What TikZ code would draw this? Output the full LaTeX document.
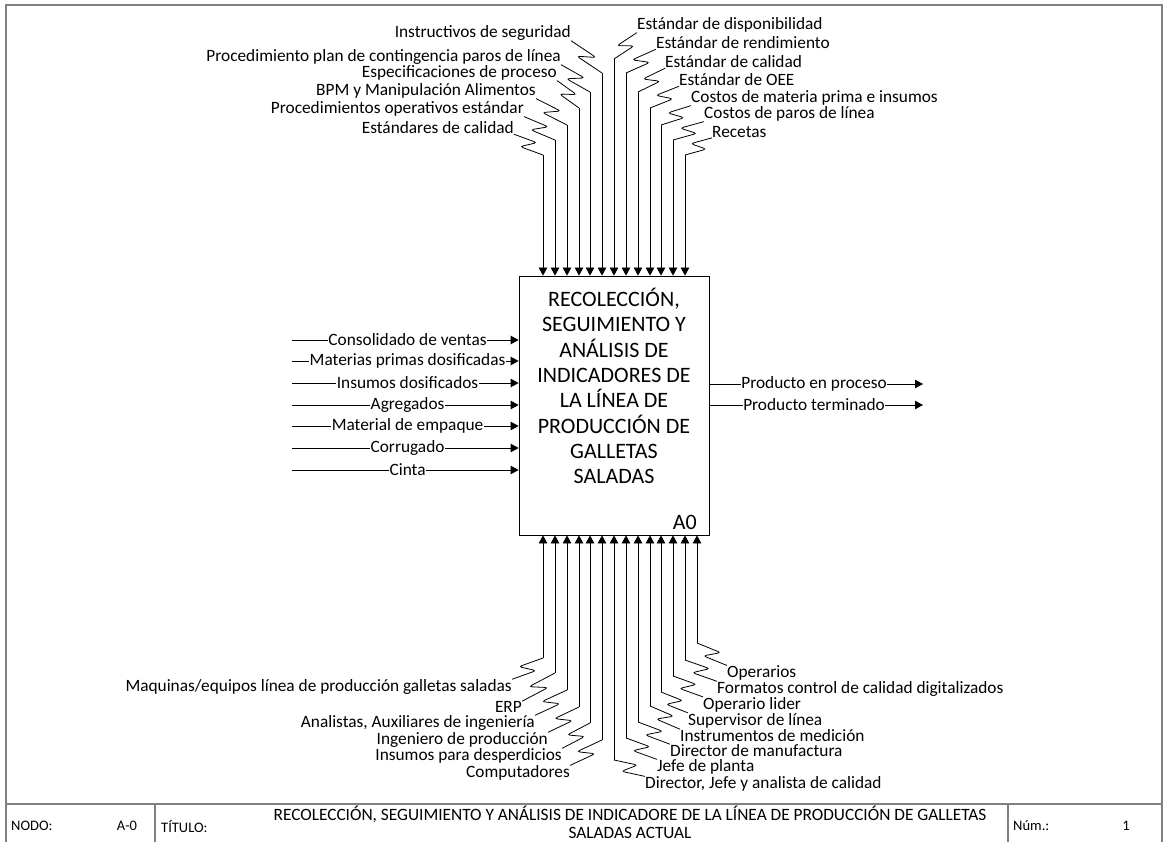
\documentclass[tikz,border=0pt]{standalone}
\usepackage{fontspec}
\setmainfont{Carlito}
\usetikzlibrary{calc,arrows.meta}
\begin{document}
\begin{tikzpicture}[x=1pt,y=-1pt,
  arr/.style={-{Triangle[length=8pt,width=8.5pt]}, line width=0.8pt},
  lab/.style={font=\fontsize{17.3}{18}\selectfont, inner sep=0pt},
  io/.style={lab, fill=white, inner sep=0.6pt},
  squig/.style={to path={-- ($(\tikztostart)!0.66!(\tikztotarget)!#1!90:(\tikztotarget)$)
      -- ($(\tikztostart)!0.34!(\tikztotarget)!-#1!90:(\tikztotarget)$) -- (\tikztotarget)}},
  squig/.default=6.5pt,
  wire/.style={line width=0.8pt, rounded corners=3pt},
  frame/.style={draw=black!50, line width=1.4pt},
  bar/.style={font=\fontsize{14.5}{16}\selectfont, inner sep=1pt}]

\useasboundingbox (0,0) rectangle (1167,842);
\clip (0,0) rectangle (1167,842);

% sheet frame and title block
\draw[frame] (6,842) -- (6,5) -- (1162,5) -- (1162,842);
\draw[frame] (6,804) -- (1162,804);
\draw[frame] (155,804) -- (155,842);
\draw[frame] (1008,804) -- (1008,842);
\node[bar, anchor=west] (nodo) at (10,826) {NODO:};
\node[bar] (nodoval) at (127,826) {A-0};
\node[bar, anchor=west] (titulo) at (160,826) {TÍTULO:};
\node[font=\fontsize{17.3}{18}\selectfont, align=center, inner sep=0pt, anchor=north] (tituloval) at (630,806)
  {RECOLECCIÓN, SEGUIMIENTO Y ANÁLISIS DE INDICADORE DE LA LÍNEA DE PRODUCCIÓN DE GALLETAS\\SALADAS ACTUAL};
\node[bar, anchor=west] (num) at (1012,826) {Núm.:};
\node[bar] (numval) at (1126,826) {1};

% activity box
\node[draw, line width=0.8pt, minimum width=190pt, minimum height=259pt, inner sep=0pt] (box) at (614,405.5) {};
\node[font=\fontsize{22}{25.3}\selectfont, align=center] (boxtext) at (614,386)
  {RECOLECCIÓN,\\SEGUIMIENTO Y\\ANÁLISIS DE\\INDICADORES DE\\LA LÍNEA DE\\PRODUCCIÓN DE\\GALLETAS\\SALADAS};
\node[font=\fontsize{22}{22}\selectfont, anchor=east, inner sep=0pt] (a0) at (697,522) {A0};

% controls, left group
\foreach \i/\x/\yt/\lx/\ly/\t in {
  1/543/155/514/128/{Estándares de calidad},
  2/555/140/524/109/{Procedimientos operativos estándar},
  3/567/125/536/91/{BPM y Manipulación Alimentos},
  4/579/108/557/73/{Especificaciones de proceso},
  5/590/92/561/57/{Procedimiento plan de contingencia paros de línea},
  6/602/73/571/33/{Instructivos de seguridad}} {
  \coordinate (ct\i) at (\x,\yt);
  \node[lab, anchor=east] (lt\i) at (\lx,\ly) {\t};
  \draw[arr] (ct\i) -- (ct\i |- box.north);
  \draw[wire] (ct\i) to[squig] (lt\i.south east);
}

% controls, right group
\foreach \i/\x/\yt/\lx/\ly/\t in {
  7/614/59/637/25/{Estándar de disponibilidad},
  8/626/73/656/43/{Estándar de rendimiento},
  9/638/92/665/62/{Estándar de calidad},
  10/650/108/679/80/{Estándar de OEE},
  11/661/125/691/98/{Costos de materia prima e insumos},
  12/673/140/704/114/{Costos de paros de línea},
  13/685/155/712/132/{Recetas}} {
  \coordinate (ct\i) at (\x,\yt);
  \node[lab, anchor=west] (lt\i) at (\lx,\ly) {\t};
  \draw[arr] (ct\i) -- (ct\i |- box.north);
  \draw[wire] (ct\i) to[squig=-6.5pt] (lt\i.south west);
}

% mechanisms, left group
\foreach \i/\x/\yb/\lx/\ly/\t in {
  1/543/658/512/687/{Maquinas/equipos línea de producción galletas saladas},
  2/555/673/522/707/{ERP},
  3/567/690/535/723/{Analistas, Auxiliares de ingeniería},
  4/579/707/548/740/{Ingeniero de producción},
  5/590/723/562/756/{Insumos para desperdicios},
  6/602/740/570/773/{Computadores}} {
  \coordinate (cm\i) at (\x,\yb);
  \node[lab, anchor=east] (lm\i) at (\lx,\ly) {\t};
  \draw[arr] (cm\i) -- (cm\i |- box.south);
  \draw[wire] (cm\i) to[squig=-6.5pt] (lm\i.north east);
}

% mechanisms, right group
\foreach \i/\x/\yb/\lx/\ly/\t in {
  7/614/760/645/784/{Director, Jefe y analista de calidad},
  8/626/738/657/767/{Jefe de planta},
  9/638/722/670/750.5/{Director de manufactura},
  10/650/706/680/735.5/{Instrumentos de medición},
  11/661/692/688/720.5/{Supervisor de línea},
  12/673/676/703/704.5/{Operario lider},
  13/685/660/717/689/{Formatos control de calidad digitalizados},
  14/697/643/727/673/{Operarios}} {
  \coordinate (cm\i) at (\x,\yb);
  \node[lab, anchor=west] (lm\i) at (\lx,\ly) {\t};
  \draw[arr] (cm\i) -- (cm\i |- box.south);
  \draw[wire] (cm\i) to[squig] (lm\i.north west);
}

% inputs
\foreach \i/\y/\t in {
  1/340/{Consolidado de ventas},
  2/361/{Materias primas dosificadas},
  3/383/{Insumos dosificados},
  4/405/{Agregados},
  5/426/{Material de empaque},
  6/448/{Corrugado},
  7/470/{Cinta}} {
  \coordinate (in\i) at (292,\y);
  \draw[arr] (in\i) -- node[io, pos=0.51] (il\i) {\t} (in\i -| box.west);
}

% outputs
\coordinate (out1) at (923,384);
\coordinate (out2) at (923,405);
\draw[arr] (out1 -| box.east) -- node[io, pos=0.49] (ol1) {Producto en proceso} (out1);
\draw[arr] (out2 -| box.east) -- node[io, pos=0.49] (ol2) {Producto terminado} (out2);

\end{tikzpicture}
\end{document}
